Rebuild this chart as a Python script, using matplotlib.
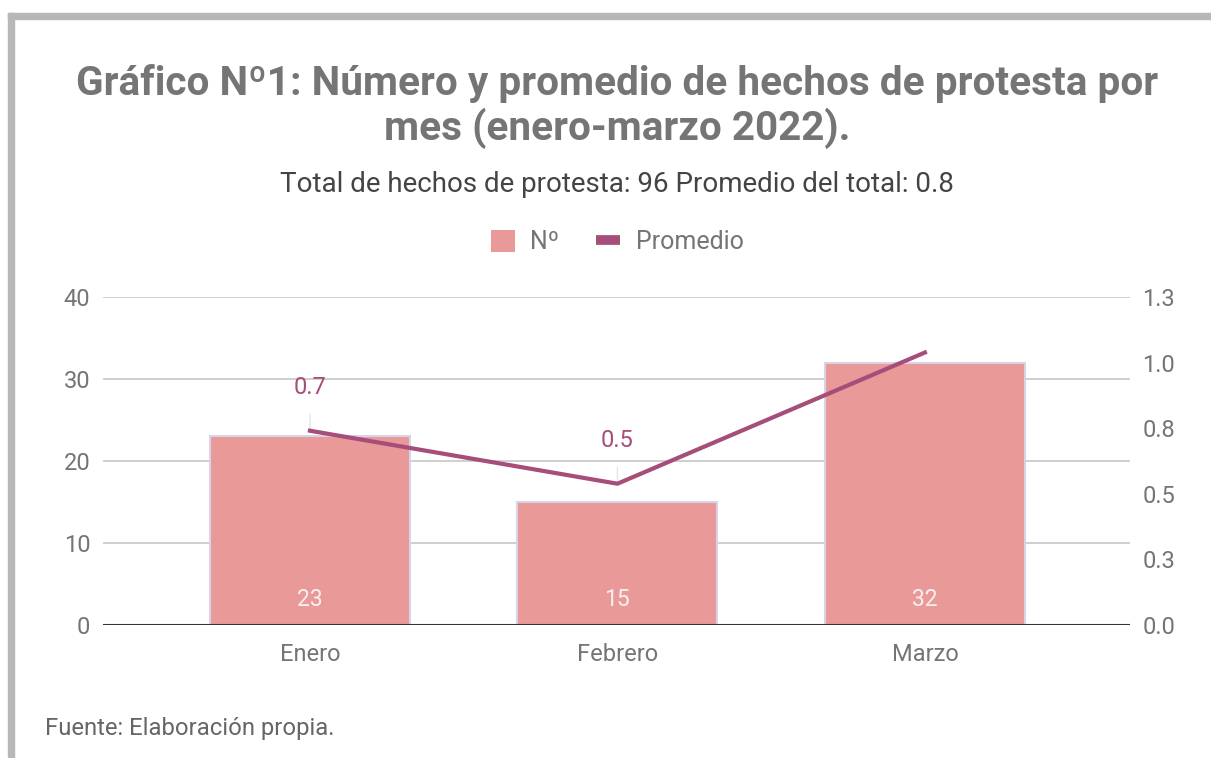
import matplotlib
matplotlib.use('Agg')
import matplotlib.pyplot as plt
from matplotlib.patches import Rectangle, Patch
from matplotlib.lines import Line2D

plt.rcParams['font.family'] = ['Roboto', 'DejaVu Sans']

# data
meses = ['Enero', 'Febrero', 'Marzo']
hechos = [23, 15, 32]
promedio = [0.77, 0.56, 1.08]
etiquetas_prom = ['0.7', '0.5', '']

titulo_1 = 'Gráfico Nº1: Número y promedio de hechos de protesta por'
titulo_2 = 'mes (enero-marzo 2022).'
subtitulo = 'Total de hechos de protesta: 96 Promedio del total: 0.8'
fuente = 'Fuente: Elaboración propia.'

izq_ticks = [0, 10, 20, 30, 40]
der_ticks = [0, 0.26, 0.52, 0.78, 1.04, 1.3]

c_barra = '#ea9999'
c_linea = '#a64d79'
c_texto = '#757575'

W, H = 1211, 758
fig = plt.figure(figsize=(W / 100, H / 100), dpi=100)
fig.patch.set_facecolor('white')

# gray frame top / left
fig.patches.append(Rectangle((8 / W, 0), 6 / W, 1 - 13 / H, transform=fig.transFigure,
                             color='#b7b7b7', zorder=0))
fig.patches.append(Rectangle((8 / W, 1 - 19 / H), 1, 6 / H, transform=fig.transFigure,
                             color='#b7b7b7', zorder=0))

ax = fig.add_axes([103 / W, 1 - 625 / H, (1130 - 103) / W, (625 - 297) / H])
x = list(range(len(meses)))
ax.bar(x, hechos, width=0.65, color=c_barra, edgecolor='#d9d2e9', linewidth=1.5, zorder=2)
ax.set_xlim(-0.673, 2.667)
ax.set_ylim(0, 40)
ax.set_yticks(izq_ticks)
ax.grid(axis='y', color='#cccccc', linewidth=1.3, zorder=0)
ax.set_axisbelow(True)
ax.axhline(0, color='#333333', linewidth=1.5, zorder=3)
for s in ax.spines.values():
    s.set_visible(False)
ax.set_xticks(x)
ax.set_xticklabels(meses)
ax.tick_params(axis='both', length=0, labelsize=17, labelcolor=c_texto)
ax.tick_params(axis='y', pad=9)
ax.tick_params(axis='x', pad=13)

for xi, v in zip(x, hechos):
    ax.annotate(str(v), (xi, 0), xytext=(0, 18), textcoords='offset points',
                ha='center', va='center', color='#f8f0f0', fontsize=16.5, zorder=4)

ax2 = ax.twinx()
ax2.plot(x, promedio, color=c_linea, linewidth=3, zorder=5)
ax2.set_ylim(0, 1.3)
ax2.set_yticks(der_ticks)
ax2.set_yticklabels(['%.1f' % t for t in der_ticks])
ax2.tick_params(axis='y', length=0, labelsize=17, labelcolor=c_texto, pad=9)
for s in ax2.spines.values():
    s.set_visible(False)

for xi, v, lab in zip(x, promedio, etiquetas_prom):
    if not lab:
        continue
    ax2.annotate(lab, (xi, v), xytext=(0, 31), textcoords='offset points',
                 ha='center', va='center', color=c_linea, fontsize=17,
                 arrowprops=dict(arrowstyle='-', color='#e6e6e6', lw=1,
                                 shrinkA=9, shrinkB=1))

fig.text(617 / W, 1 - 95 / H, titulo_1, ha='center', va='baseline',
         fontsize=29.2, fontweight='bold', color=c_texto)
fig.text(617 / W, 1 - 140 / H, titulo_2, ha='center', va='baseline',
         fontsize=29.2, fontweight='bold', color=c_texto)
fig.text(617 / W, 1 - 185 / H, subtitulo, ha='center', va='center',
         fontsize=20, color='#444444')
fig.text(45 / W, 1 - 728 / H, fuente, ha='left', va='center',
         fontsize=17.2, color='#666666')

handles = [Patch(facecolor=c_barra, edgecolor='none'),
           Line2D([], [], color=c_linea, linewidth=7, solid_capstyle='butt')]
fig.legend(handles, ['Nº', 'Promedio'], loc='center', ncol=2,
           bbox_to_anchor=(617 / W, 1 - 242 / H), frameon=False,
           fontsize=18, labelcolor=c_texto, handlelength=0.96, handleheight=0.96,
           handletextpad=0.64, columnspacing=1.44)

fig.savefig('out.png', dpi=100)
